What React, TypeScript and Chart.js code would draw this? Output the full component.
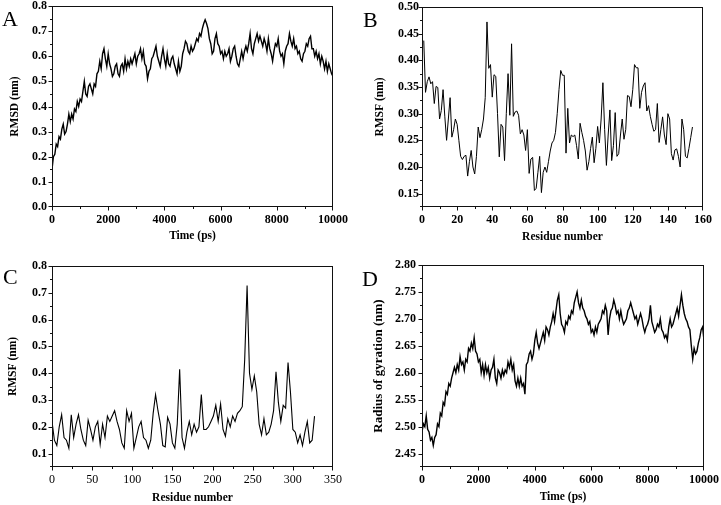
import React, { useEffect, useRef } from 'react';
import { Chart, registerables } from 'chart.js';

Chart.register(...registerables);

// ---------- data ----------
const RMSD_STEP_PS = 50;
const rmsdValues = [
  0.15, 0.20, 0.21, 0.25, 0.24, 0.28, 0.27, 0.31, 0.33, 0.29,
  0.30, 0.33, 0.37, 0.34, 0.37, 0.35, 0.39, 0.38, 0.42, 0.40,
  0.43, 0.42, 0.46, 0.50, 0.45, 0.44, 0.48, 0.49, 0.47, 0.45,
  0.49, 0.48, 0.53, 0.54, 0.58, 0.55, 0.61, 0.63, 0.59, 0.56,
  0.61, 0.57, 0.55, 0.52, 0.53, 0.56, 0.57, 0.53, 0.52, 0.56,
  0.57, 0.54, 0.59, 0.55, 0.58, 0.56, 0.59, 0.57, 0.59, 0.61,
  0.57, 0.60, 0.61, 0.63, 0.59, 0.62, 0.57, 0.56, 0.51, 0.54,
  0.55, 0.59, 0.60, 0.62, 0.64, 0.60, 0.58, 0.56, 0.60, 0.63,
  0.59, 0.56, 0.61, 0.57, 0.56, 0.59, 0.60, 0.57, 0.55, 0.53,
  0.58, 0.54, 0.56, 0.61, 0.63, 0.66, 0.65, 0.62, 0.61, 0.64,
  0.62, 0.63, 0.65, 0.67, 0.66, 0.69, 0.68, 0.71, 0.73, 0.745,
  0.73, 0.71, 0.67, 0.65, 0.61, 0.62, 0.67, 0.69, 0.65, 0.64,
  0.61, 0.62, 0.59, 0.62, 0.60, 0.61, 0.63, 0.58, 0.60, 0.63,
  0.64, 0.60, 0.57, 0.56, 0.59, 0.62, 0.59, 0.62, 0.64, 0.62,
  0.65, 0.69, 0.63, 0.61, 0.65, 0.67, 0.69, 0.66, 0.68, 0.66,
  0.64, 0.67, 0.65, 0.62, 0.67, 0.63, 0.61, 0.58, 0.62, 0.65,
  0.64, 0.67, 0.62, 0.60, 0.61, 0.57, 0.62, 0.64, 0.65, 0.69,
  0.66, 0.64, 0.67, 0.63, 0.64, 0.61, 0.62, 0.59, 0.58, 0.61,
  0.62, 0.65, 0.64, 0.67, 0.68, 0.63, 0.63, 0.60, 0.62, 0.59,
  0.61, 0.57, 0.60, 0.58, 0.55, 0.58, 0.54, 0.57, 0.55, 0.53,
  0.52,
];

const B_FIRST_RESIDUE = 1;
const rmsfBValues = [
  0.437, 0.34, 0.36, 0.369, 0.356, 0.36, 0.319, 0.351, 0.349, 0.29,
  0.306, 0.345, 0.294, 0.25, 0.29, 0.33, 0.256, 0.27, 0.29, 0.28,
  0.25, 0.22, 0.214, 0.22, 0.222, 0.183, 0.21, 0.231, 0.20, 0.187,
  0.22, 0.275, 0.255, 0.27, 0.29, 0.33, 0.472, 0.385, 0.392, 0.331,
  0.373, 0.37, 0.30, 0.219, 0.28, 0.275, 0.212, 0.30, 0.375, 0.297,
  0.431, 0.295, 0.303, 0.305, 0.297, 0.262, 0.27, 0.26, 0.231, 0.27,
  0.188, 0.215, 0.218, 0.156, 0.16, 0.19, 0.22, 0.152, 0.19, 0.20,
  0.19, 0.21, 0.23, 0.245, 0.25, 0.265, 0.30, 0.345, 0.381, 0.372,
  0.372, 0.226, 0.31, 0.245, 0.26, 0.257, 0.26, 0.24, 0.215, 0.282,
  0.265, 0.25, 0.23, 0.194, 0.21, 0.235, 0.256, 0.208, 0.235, 0.276,
  0.245, 0.29, 0.358, 0.27, 0.203, 0.26, 0.307, 0.212, 0.24, 0.302,
  0.22, 0.225, 0.26, 0.29, 0.252, 0.27, 0.334, 0.332, 0.313, 0.345,
  0.392, 0.386, 0.386, 0.31, 0.34, 0.352, 0.358, 0.305, 0.315, 0.295,
  0.28, 0.267, 0.27, 0.319, 0.246, 0.27, 0.294, 0.26, 0.242, 0.30,
  0.29, 0.225, 0.213, 0.232, 0.234, 0.22, 0.20, 0.29, 0.27, 0.22,
  0.217, 0.235, 0.255, 0.275,
];

const C_RESIDUE_STEP = 3;
const rmsfCValues = [
  0.22, 0.15, 0.13, 0.20, 0.245, 0.16, 0.15, 0.12, 0.245, 0.16,
  0.21, 0.245, 0.19, 0.15, 0.13, 0.225, 0.19, 0.15, 0.20, 0.22,
  0.135, 0.21, 0.16, 0.24, 0.22, 0.24, 0.26, 0.22, 0.19, 0.14,
  0.12, 0.26, 0.22, 0.25, 0.12, 0.16, 0.20, 0.22, 0.16, 0.15,
  0.12, 0.15, 0.25, 0.32, 0.26, 0.21, 0.13, 0.125, 0.235, 0.21,
  0.14, 0.12, 0.21, 0.415, 0.16, 0.12, 0.18, 0.22, 0.17, 0.21,
  0.18, 0.20, 0.32, 0.19, 0.19, 0.20, 0.22, 0.24, 0.28, 0.22,
  0.285, 0.19, 0.165, 0.23, 0.20, 0.24, 0.22, 0.25, 0.26, 0.275,
  0.45, 0.727, 0.40, 0.34, 0.39, 0.33, 0.21, 0.17, 0.23, 0.17,
  0.18, 0.21, 0.26, 0.405, 0.29, 0.22, 0.28, 0.27, 0.44, 0.33,
  0.19, 0.18, 0.14, 0.17, 0.13, 0.18, 0.22, 0.14, 0.15, 0.24,
];

const RG_STEP_PS = 50;
const rgValues = [
  2.49, 2.505, 2.50, 2.52, 2.495, 2.49, 2.475, 2.48, 2.465, 2.48,
  2.485, 2.505, 2.50, 2.525, 2.52, 2.545, 2.54, 2.565, 2.56, 2.58,
  2.575, 2.59, 2.60, 2.61, 2.60, 2.615, 2.605, 2.63, 2.615, 2.62,
  2.605, 2.625, 2.62, 2.645, 2.64, 2.655, 2.645, 2.665, 2.64, 2.635,
  2.62, 2.625, 2.60, 2.615, 2.595, 2.615, 2.60, 2.61, 2.59, 2.605,
  2.61, 2.625, 2.59, 2.58, 2.605, 2.60, 2.59, 2.605, 2.595, 2.605,
  2.60, 2.62, 2.61, 2.625, 2.605, 2.615, 2.585, 2.575, 2.59, 2.575,
  2.59, 2.575, 2.58, 2.56, 2.615, 2.62, 2.635, 2.64, 2.625, 2.635,
  2.66, 2.675, 2.655, 2.645, 2.655, 2.665, 2.675, 2.66, 2.685, 2.68,
  2.67, 2.685, 2.695, 2.71, 2.695, 2.715, 2.735, 2.745, 2.71, 2.69,
  2.685, 2.675, 2.695, 2.69, 2.705, 2.70, 2.715, 2.71, 2.73, 2.74,
  2.75, 2.73, 2.72, 2.735, 2.72, 2.715, 2.705, 2.70, 2.69, 2.695,
  2.675, 2.68, 2.67, 2.685, 2.675, 2.69, 2.695, 2.70, 2.715, 2.71,
  2.725, 2.715, 2.67, 2.70, 2.715, 2.72, 2.735, 2.725, 2.71, 2.715,
  2.70, 2.715, 2.70, 2.69, 2.695, 2.70, 2.715, 2.72, 2.73, 2.72,
  2.71, 2.70, 2.705, 2.69, 2.70, 2.71, 2.70, 2.685, 2.675, 2.685,
  2.69, 2.70, 2.725, 2.695, 2.685, 2.675, 2.68, 2.69, 2.685, 2.70,
  2.68, 2.675, 2.665, 2.67, 2.66, 2.685, 2.70, 2.685, 2.69, 2.70,
  2.71, 2.72, 2.705, 2.725, 2.745, 2.725, 2.71, 2.70, 2.695, 2.685,
  2.68, 2.65, 2.625, 2.645, 2.635, 2.64, 2.655, 2.665, 2.68, 2.685,
  2.66,
];

// tick labels
const A_X_TICKS = [0, 2000, 4000, 6000, 8000, 10000];
const A_Y_TICKS = [0, 0.1, 0.2, 0.3, 0.4, 0.5, 0.6, 0.7, 0.8];
const B_X_TICKS = [0, 20, 40, 60, 80, 100, 120, 140, 160];
const B_Y_TICKS = [0.15, 0.2, 0.25, 0.3, 0.35, 0.4, 0.45, 0.5];
const C_X_TICKS = [0, 50, 100, 150, 200, 250, 300, 350];
const C_Y_TICKS = [0.1, 0.2, 0.3, 0.4, 0.5, 0.6, 0.7, 0.8];
const D_X_TICKS = [0, 2000, 4000, 6000, 8000, 10000];
const D_Y_TICKS = [2.45, 2.5, 2.55, 2.6, 2.65, 2.7, 2.75, 2.8];

const FONT = 'Liberation Serif, Times New Roman, serif';

// ---------- plugin: frame + major/minor outward ticks ----------
const frameTicks = {
  id: 'frameTicks',
  afterDraw(chart: any, _args: any, opts: any) {
    const { ctx, chartArea } = chart;
    const { left, right, top, bottom } = chartArea;
    const xs = chart.scales.x;
    const ys = chart.scales.y;
    ctx.save();
    ctx.strokeStyle = '#111';
    ctx.lineWidth = 1;
    const L = Math.round(left) + 0.5;
    const T = Math.round(top) + 0.5;
    const R = Math.round(right) - 0.5;
    const B = Math.round(bottom) - 0.5;
    ctx.strokeRect(L, T, R - L, B - T);
    const isMajor = (v: number, list: number[]) => list.some((m) => Math.abs(m - v) < 1e-6);
    ctx.beginPath();
    const nx = Math.round((opts.xMax - opts.xMin) / opts.xMinor);
    for (let i = 0; i <= nx; i++) {
      const v = opts.xMin + i * opts.xMinor;
      const px = Math.round(xs.getPixelForValue(v)) + 0.5;
      const len = isMajor(v, opts.xMajor) ? 4 : 2.5;
      ctx.moveTo(Math.min(Math.max(px, L), R), B);
      ctx.lineTo(Math.min(Math.max(px, L), R), B + len);
    }
    const ny = Math.round((opts.yMax - opts.yMin) / opts.yMinor);
    for (let i = 0; i <= ny; i++) {
      const v = opts.yMin + i * opts.yMinor;
      const py = Math.round(ys.getPixelForValue(v)) + 0.5;
      const len = isMajor(v, opts.yMajor) ? 4 : 2.5;
      const yy = Math.min(Math.max(py, T), B);
      ctx.moveTo(L, yy);
      ctx.lineTo(L - len, yy);
    }
    ctx.stroke();
    ctx.restore();
  },
};

type Panel = {
  letter: string;
  left: number;
  top: number;
  width: number;
  height: number;
  letterLeft: number;
  letterTop: number;
  points: { x: number; y: number }[];
  lineWidth: number;
  xMin: number; xMax: number; xTicks: number[]; xMinor: number; xDec: number; xTickBold: boolean;
  yMin: number; yMax: number; yTicks: number[]; yMinor: number; yDec: number;
  xTitle: string; yTitle: string; yTitleSize: number;
  pad: { left: number; right: number; top: number; bottom: number };
  yAxisW: number; xAxisH: number;
  yTitlePad: number; xTitlePad: number; yTickPad: number; xTickPad: number;
};

const panels: Panel[] = [
  {
    letter: 'A', left: 0, top: 0, width: 360, height: 250, letterLeft: 2, letterTop: 8,
    points: rmsdValues.map((v, i) => ({ x: i * RMSD_STEP_PS, y: v })), lineWidth: 1.4,
    xMin: 0, xMax: 10000, xTicks: A_X_TICKS, xMinor: 1000, xDec: 0, xTickBold: true,
    yMin: 0, yMax: 0.8, yTicks: A_Y_TICKS, yMinor: 0.05, yDec: 1,
    xTitle: 'Time (ps)', yTitle: 'RMSD (nm)', yTitleSize: 11.5,
    pad: { left: 0, right: 27, top: 6, bottom: 0 }, yAxisW: 52, xAxisH: 43,
    yTitlePad: 8, xTitlePad: 7, yTickPad: 5, xTickPad: 6,
  },
  {
    letter: 'B', left: 360, top: 0, width: 361, height: 250, letterLeft: 3, letterTop: 9,
    points: rmsfBValues.map((v, i) => ({ x: B_FIRST_RESIDUE + i, y: v })), lineWidth: 1,
    xMin: 0, xMax: 160, xTicks: B_X_TICKS, xMinor: 10, xDec: 0, xTickBold: true,
    yMin: 0.125, yMax: 0.5, yTicks: B_Y_TICKS, yMinor: 0.025, yDec: 2,
    xTitle: 'Residue number', yTitle: 'RMSF (nm)', yTitleSize: 11.5,
    pad: { left: 0, right: 18, top: 7, bottom: 0 }, yAxisW: 62, xAxisH: 43,
    yTitlePad: 13, xTitlePad: 6.5, yTickPad: 3, xTickPad: 6,
  },
  {
    letter: 'C', left: 0, top: 250, width: 360, height: 255, letterLeft: 3, letterTop: 16,
    points: rmsfCValues.map((v, i) => ({ x: i * C_RESIDUE_STEP, y: v })), lineWidth: 1.1,
    xMin: 0, xMax: 350, xTicks: C_X_TICKS, xMinor: 25, xDec: 0, xTickBold: false,
    yMin: 0.05, yMax: 0.8, yTicks: C_Y_TICKS, yMinor: 0.05, yDec: 1,
    xTitle: 'Residue number', yTitle: 'RMSF (nm)', yTitleSize: 11.5,
    pad: { left: 0, right: 27, top: 16, bottom: 0 }, yAxisW: 52, xAxisH: 38,
    yTitlePad: 6, xTitlePad: 0, yTickPad: 5, xTickPad: 6,
  },
  {
    letter: 'D', left: 360, top: 250, width: 361, height: 255, letterLeft: 2, letterTop: 18,
    points: rgValues.map((v, i) => ({ x: i * RG_STEP_PS, y: v })), lineWidth: 1.4,
    xMin: 0, xMax: 10000, xTicks: D_X_TICKS, xMinor: 1000, xDec: 0, xTickBold: true,
    yMin: 2.425, yMax: 2.8, yTicks: D_Y_TICKS, yMinor: 0.025, yDec: 2,
    xTitle: 'Time (ps)', yTitle: 'Radius of gyration (nm)', yTitleSize: 13,
    pad: { left: 0, right: 17, top: 15, bottom: 0 }, yAxisW: 62, xAxisH: 38,
    yTitlePad: 11, xTitlePad: 1.5, yTickPad: 6, xTickPad: 6,
  },
];

function PanelChart({ p }: { p: Panel }) {
  const ref = useRef<HTMLCanvasElement | null>(null);
  useEffect(() => {
    if (!ref.current) return;
    const chart = new Chart(ref.current, {
      type: 'line',
      data: {
        datasets: [
          {
            data: p.points,
            borderColor: '#000',
            borderWidth: p.lineWidth,
            pointRadius: 0,
            tension: 0,
            fill: false,
          },
        ],
      },
      options: {
        responsive: false,
        animation: false,
        events: [],
        layout: { padding: p.pad },
        plugins: {
          legend: { display: false },
          tooltip: { enabled: false },
          frameTicks: {
            xMin: p.xMin, xMax: p.xMax, xMinor: p.xMinor, xMajor: p.xTicks,
            yMin: p.yMin, yMax: p.yMax, yMinor: p.yMinor, yMajor: p.yTicks,
          },
        } as any,
        scales: {
          x: {
            type: 'linear',
            min: p.xMin,
            max: p.xMax,
            bounds: 'data',
            grid: { display: false, drawTicks: false },
            border: { display: false },
            afterBuildTicks: (s: any) => {
              s.ticks = p.xTicks.map((v) => ({ value: v }));
            },
            afterFit: (s: any) => {
              s.height = p.xAxisH;
              s.paddingLeft = 0;
              s.paddingRight = 0;
            },
            ticks: {
              autoSkip: false,
              maxRotation: 0,
              minRotation: 0,
              padding: p.xTickPad,
              color: '#000',
              font: { family: FONT, size: 12, weight: p.xTickBold ? 'bold' : 'normal' },
              callback: (v: any) => Number(v).toFixed(p.xDec),
            },
            title: {
              display: true,
              text: p.xTitle,
              color: '#000',
              font: { family: FONT, size: 11.5, weight: 'bold' },
              padding: { top: 0, bottom: p.xTitlePad },
            },
          },
          y: {
            type: 'linear',
            min: p.yMin,
            max: p.yMax,
            bounds: 'data',
            grid: { display: false, drawTicks: false },
            border: { display: false },
            afterBuildTicks: (s: any) => {
              s.ticks = p.yTicks.map((v) => ({ value: v }));
            },
            afterFit: (s: any) => {
              s.width = p.yAxisW;
              s.paddingTop = 0;
              s.paddingBottom = 0;
            },
            ticks: {
              autoSkip: false,
              padding: p.yTickPad,
              color: '#000',
              font: { family: FONT, size: 12, weight: 'bold' },
              callback: (v: any) => Number(v).toFixed(p.yDec),
            },
            title: {
              display: true,
              text: p.yTitle,
              color: '#000',
              font: { family: FONT, size: p.yTitleSize, weight: 'bold' },
              padding: { top: p.yTitlePad, bottom: 0 },
            },
          },
        },
      } as any,
      plugins: [frameTicks as any],
    });
    return () => chart.destroy();
  }, [p]);

  return (
    <div style={{ position: 'absolute', left: p.left, top: p.top, width: p.width, height: p.height }}>
      <canvas
        ref={ref}
        width={p.width}
        height={p.height}
        style={{ position: 'absolute', left: 0, top: 0, width: p.width, height: p.height, display: 'block' }}
      />
      <div
        style={{
          position: 'absolute',
          left: p.letterLeft,
          top: p.letterTop,
          fontFamily: FONT,
          fontSize: 22,
          lineHeight: '22px',
          color: '#000',
        }}
      >
        {p.letter}
      </div>
    </div>
  );
}

export default function App() {
  return (
    <div
      style={{
        position: 'absolute',
        left: 0,
        top: 0,
        width: 721,
        height: 505,
        background: '#fff',
        overflow: 'hidden',
      }}
    >
      {panels.map((p) => (
        <PanelChart key={p.letter} p={p} />
      ))}
    </div>
  );
}
